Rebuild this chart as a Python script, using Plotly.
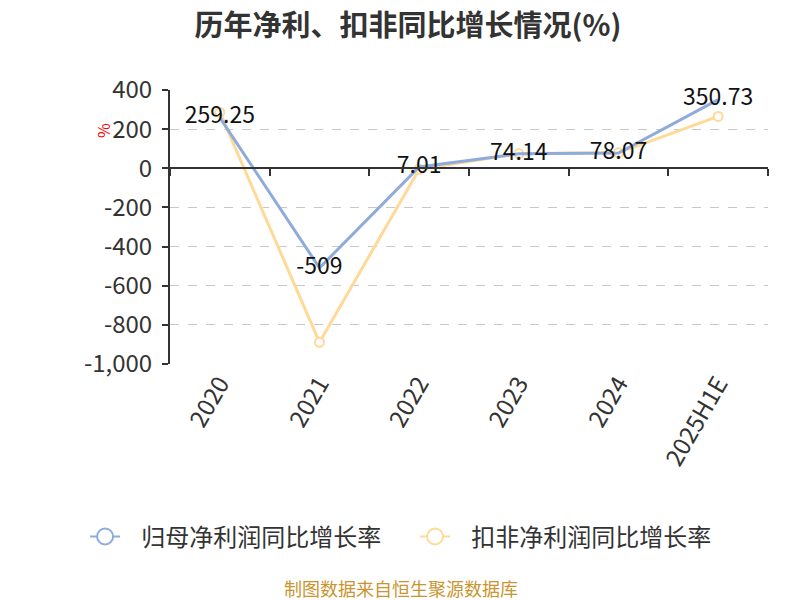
import plotly.graph_objects as go

# data
years = ["2020", "2021", "2022", "2023", "2024", "2025H1E"]
net_profit_growth = [259.25, -509, 7.01, 74.14, 78.07, 350.73]
deducted_growth = [286, -889, -5, 75, 79, 265]
y_ticks = [-1000, -800, -600, -400, -200, 0, 200, 400]
y_tick_text = ["-1,000", "-800", "-600", "-400", "-200", "0", "200", "400"]

blue = "#8eabdc"
orange = "#ffd998"
font_cn = "Noto Sans CJK SC"

fig = go.Figure()

fig.add_trace(go.Scatter(
    x=years, y=deducted_growth, mode="lines+markers",
    line=dict(color=orange, width=3),
    marker=dict(symbol="circle", size=9, color="white",
                line=dict(color=orange, width=2)),
    showlegend=False, cliponaxis=False, hoverinfo="skip"))

fig.add_trace(go.Scatter(
    x=years, y=net_profit_growth, mode="lines+text",
    line=dict(color=blue, width=3),
    text=[f"{v:g}" for v in net_profit_growth],
    textposition="middle center",
    textfont=dict(size=23, color="#111", family=font_cn),
    showlegend=False, cliponaxis=False))

# legend entries
for name, c in [("归母净利润同比增长率", blue), ("扣非净利润同比增长率", orange)]:
    fig.add_trace(go.Scatter(
        x=[None], y=[None], mode="lines+markers", name="\u00a0\u00a0\u00a0" + name,
        line=dict(color=c, width=2),
        marker=dict(symbol="circle", size=16, color="white",
                    line=dict(color=c, width=2))))

fig.update_layout(
    width=800, height=600,
    paper_bgcolor="white", plot_bgcolor="white",
    margin=dict(l=162, r=40, t=82, b=244),
    font=dict(family=font_cn, color="#333"),
    title=dict(text="<b>历年净利、扣非同比增长情况(%)</b>",
               x=0.5, xanchor="center", y=0.97, yanchor="middle",
               font=dict(size=29, color="#333")),
    legend=dict(orientation="h", x=-0.142, xanchor="left", y=-0.631,
                yanchor="middle", font=dict(size=24, color="#333"),
                entrywidth=285),
    showlegend=True,
)

fig.update_xaxes(
    type="category", range=[-0.5, 5.5], showgrid=False, showline=False,
    ticks="", tickangle=-60, tickfont=dict(size=24, color="#333"),
)
fig.update_yaxes(
    range=[-1000, 400], tickvals=y_ticks, ticktext=y_tick_text,
    showgrid=True, gridcolor="#c8c8c8", griddash="dash", gridwidth=1.3,
    zeroline=False, showline=True, linecolor="#333", linewidth=2,
    ticks="outside", ticklen=6, tickcolor="#333", tickwidth=2,
    ticklabelstandoff=5,
    tickfont=dict(size=24, color="#333"),
)

# axis line at zero, ticks between categories
fig.update_layout(xaxis2=dict(
    type="category", overlaying="x", anchor="free",
    position=1000 / 1400, side="bottom",
    categoryarray=years, categoryorder="array",
    showline=True, linecolor="#333", linewidth=2,
    ticks="outside", tickson="boundaries", ticklen=7, tickcolor="#333",
    tickwidth=2, showticklabels=False, showgrid=False, range=[-0.5, 5.5]))
fig.add_trace(go.Scatter(x=years, y=[None] * 6, xaxis="x2",
                         showlegend=False, hoverinfo="skip"))

fig.add_annotation(text="%", xref="paper", yref="paper", x=-0.112, y=0.85,
                   xanchor="center", yanchor="middle",
                   showarrow=False, textangle=-90,
                   font=dict(size=16, color="red"))
fig.add_annotation(text="制图数据来自恒生聚源数据库", xref="paper", yref="paper",
                   x=0.386, y=-0.818, xanchor="center", yanchor="middle",
                   showarrow=False,
                   font=dict(size=18, color="#c99530"))

fig.write_html("out.html")
